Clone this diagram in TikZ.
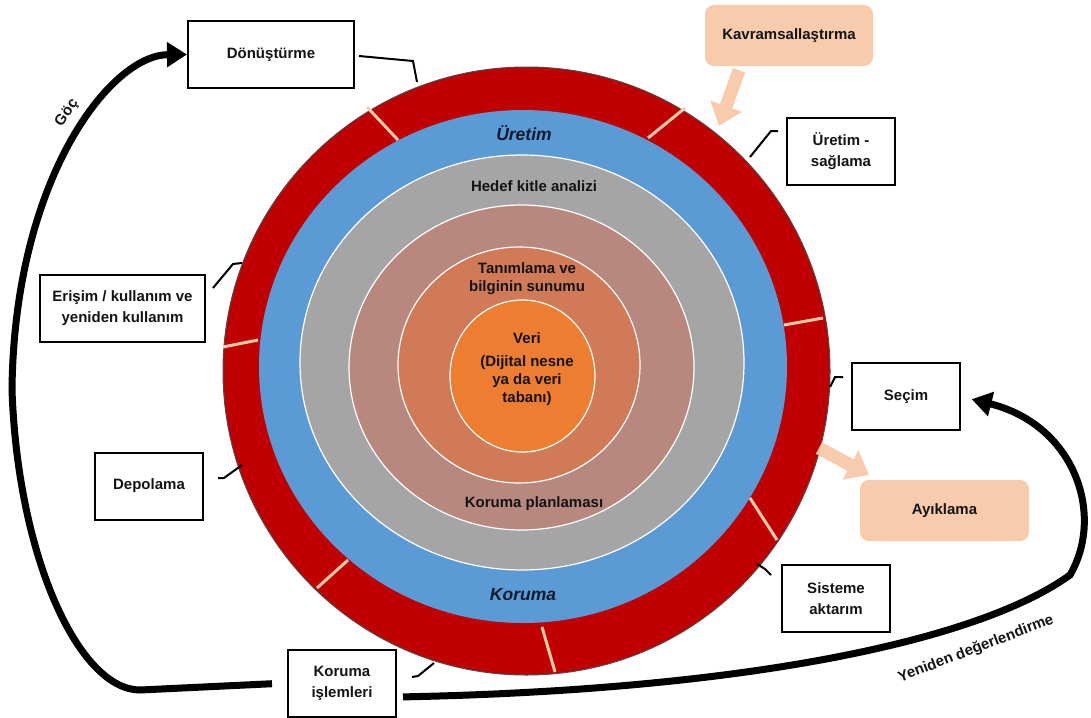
\documentclass[tikz,border=0pt]{standalone}
\usepackage{fontspec}
\setmainfont{Liberation Sans}
\usetikzlibrary{arrows.meta}
\usetikzlibrary{positioning}

\definecolor{ringred}{HTML}{C00000}
\definecolor{ringblue}{HTML}{5B9BD5}
\definecolor{ringgray}{HTML}{A5A5A5}
\definecolor{ringrose}{HTML}{B8877E}
\definecolor{ringclay}{HTML}{D17A58}
\definecolor{ringcore}{HTML}{ED7D31}
\definecolor{peach}{HTML}{F8CBAD}
\definecolor{ink}{HTML}{141414}
\definecolor{navyink}{HTML}{0F1A2E}

\begin{document}
\begin{tikzpicture}[x=1pt, y=-1pt,
    stage/.style={draw=black, line width=2, fill=white, align=center,
        minimum width=108, minimum height=67, inner sep=2,
        font=\fontsize{15}{21}\selectfont\bfseries, text=ink},
    idea/.style={fill=peach, rounded corners=9, align=center,
        minimum width=168, minimum height=61,
        font=\fontsize{15}{21}\selectfont\bfseries, text=ink},
    layer/.style={align=center, font=\fontsize{15}{18}\selectfont\bfseries, text=ink},
    band/.style={font=\fontsize{17.5}{20}\selectfont\bfseries\itshape, text=navyink},
    leader/.style={draw=black, line width=2},
    cycle/.style={draw=black, line width=7, -{Triangle[width=24pt,length=20pt]}},
    hint/.style={draw=peach, line width=13, -{Triangle[width=32pt,length=21pt]}},
    gap/.style={draw=peach, line width=3}]
    \useasboundingbox (0,0) rectangle (1091,717);

    % rings
    \filldraw[fill=ringred, draw=black!70, line width=1] (526.5,371) ellipse [x radius=303.5, y radius=304];
    \fill[ringblue] (523,366.5) ellipse [x radius=264, y radius=256.5];
    \filldraw[fill=ringgray, draw=white, line width=1.2] (522,362.5) ellipse [x radius=222, y radius=207.5];
    \filldraw[fill=ringrose, draw=white, line width=1.2] (521.5,367.5) ellipse [x radius=172.5, y radius=162.5];
    \filldraw[fill=ringclay, draw=white, line width=1.2] (519,365) ellipse [x radius=121, y radius=118];
    \filldraw[fill=ringcore, draw=white, line width=1.2] (522.5,376) ellipse [x radius=72.5, y radius=76];

    % gaps in the red ring
    \draw[gap] (367,107) -- (398,140);
    \draw[gap] (685,108) -- (648,138);
    \draw[gap] (784,325) -- (823,318);
    \draw[gap] (750,498) -- (777,540);
    \draw[gap] (542,627) -- (555,672);
    \draw[gap] (348,560) -- (317,588);
    \draw[gap] (223,347) -- (258,340);

    % ring texts
    \node[band] (uretimband) at (524,133) {Üretim};
    \node[band] (korumaband) at (523,595) {Koruma};
    \node[layer] (hedef) at (534,186) {Hedef kitle analizi};
    \node[layer] (tanim) at (527,279) {Tanımlama ve\\bilginin sunumu};
    \node[layer] (veri) at (527,338) {Veri};
    \node[layer, below=5pt of veri] (dijital) {(Dijital nesne\\ya da veri\\tabanı)};
    \node[layer] (plan) at (534,504) {Koruma planlaması};

    % stages
    \node[stage, minimum width=166] (donus) at (271,54.5) {Dönüştürme};
    \node[stage] (uretim) at (841,151.5) {Üretim -\\sağlama};
    \node[stage, minimum width=165] (erisim) at (122.5,308.5) {Erişim / kullanım ve\\yeniden kullanım};
    \node[stage] (depo) at (149,486) {Depolama};
    \node[stage] (secim) at (906,396.5) {Seçim};
    \node[stage] (sistem) at (836,598.5) {Sisteme\\aktarım};
    \node[stage] (korumais) at (342,683) {Koruma\\işlemleri};

    \node[idea] (kavram) at (789,35.5) {Kavramsallaştırma};
    \node[idea, minimum width=169] (ayik) at (944.5,510.5) {Ayıklama};

    % leaders to the ring
    \coordinate (d1) at (417,82);
    \coordinate (d2) at (750,157);
    \coordinate (d3) at (242,263);
    \coordinate (d4) at (242,465);
    \coordinate (d5) at (830,387);
    \coordinate (d6) at (771,575);
    \coordinate (d7) at (434,663);
    \draw[leader] (359,56) -- (413,61) -- (d1);
    \draw[leader] (778,131) -- (771,131) -- (d2);
    \draw[leader] (213,288) -- (233,264) -- (d3);
    \draw[leader] (218,478) -- (224,478) -- (d4);
    \draw[leader] (843,377) -- (835,377) -- (d5);
    \draw[leader] (757,564) -- (765,569) -- (d6);
    \draw[leader] (412,677) -- (418,676) -- (d7);

    % peach arrows
    \coordinate (k1) at (719,126);
    \coordinate (a1) at (869,475);
    \draw[hint] ([yshift=-4]kavram.south -| 739,0) -- (k1);
    \draw[hint] (819,448) -- (a1);

    % loops
    \draw[cycle, shorten <=15pt] (korumais.west) -- (140,690)
        .. controls (80,690) and (18,560) .. (12,390)
        .. controls (14,180) and (110,55) .. (donus.west);
    \draw[cycle, shorten <=6pt, shorten >=11pt] ([yshift=-14]korumais.east) .. controls (750,690) and (980,640) .. (1070,575)
        .. controls (1105,515) and (1075,425) .. (secim.east);

    \node[layer, rotate=55] (goc) at (67,113) {Göç};
    \node[layer, rotate=21] (yeniden) at (976,649) {Yeniden değerlendirme};
\end{tikzpicture}
\end{document}
